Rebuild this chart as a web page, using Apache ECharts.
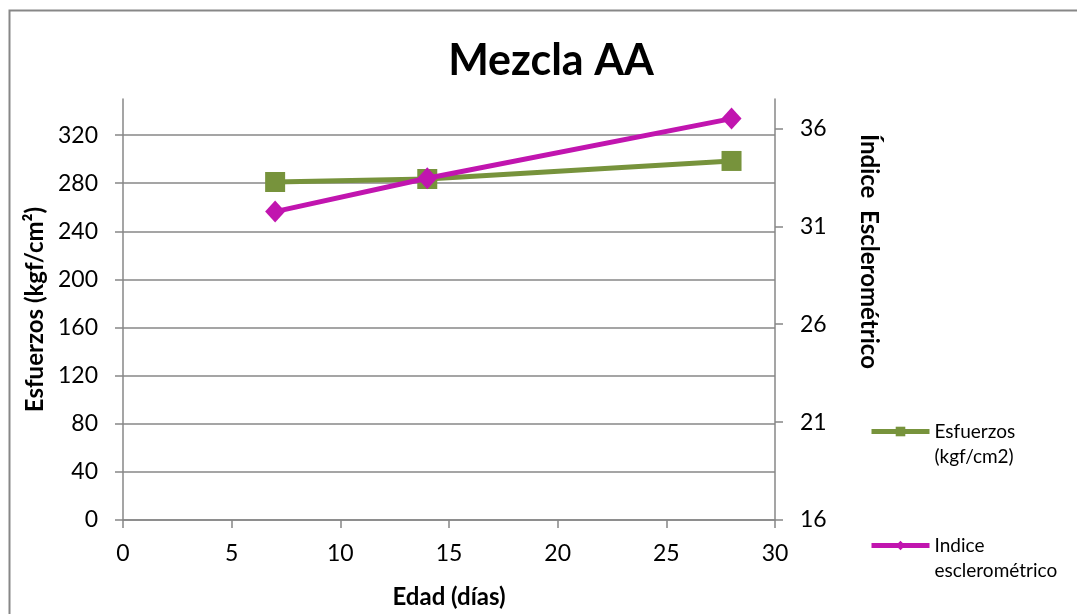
<!DOCTYPE html>
<html>
<head>
<meta charset="utf-8">
<script src="https://cdn.jsdelivr.net/npm/echarts@6/dist/echarts.min.js"></script>
<style>
  html, body { margin: 0; padding: 0; background: #fff; }
  #chart { width: 1077px; height: 614px; }
</style>
</head>
<body>
<div id="chart"></div>
<script>
// Edad (días) for each test
const edadDias = [7, 14, 28];
// Esfuerzos (kgf/cm2)
const esfuerzos = [281, 283.5, 298.5];
// Índice esclerométrico
const indice = [31.75, 33.45, 36.5];

const leftTicks = { min: 0, max: 350, interval: 40 };
const rightTicks = { min: 16, max: 37.5, interval: 5 };
const xTicks = { min: 0, max: 30, interval: 5 };

const FONT = 'Lato, "Open Sans", sans-serif';
const GRID_COLOR = '#878787';
const GREEN = '#77933C';
const MAGENTA = '#C115AF';

const chart = echarts.init(document.getElementById('chart'), null, { renderer: 'canvas' });

chart.setOption({
  animation: false,
  backgroundColor: '#ffffff',
  textStyle: { fontFamily: FONT },
  title: {
    text: 'Mezcla AA',
    left: 546,
    textAlign: 'center',
    top: 35,
    textStyle: { fontFamily: FONT, fontSize: 43, fontWeight: 'bold', color: '#000' }
  },
  graphic: [{
    type: 'rect',
    shape: { x: 9.5, y: 10.5, width: 1200, height: 800 },
    style: { fill: 'none', stroke: GRID_COLOR, lineWidth: 2 },
    silent: true
  }],
  grid: { left: 123, right: 302, top: 99, bottom: 93, containLabel: false },
  legend: {
    orient: 'vertical',
    left: 869,
    top: 394,
    padding: 0,
    itemWidth: 58,
    itemHeight: 12,
    itemGap: 39,
    lineStyle: { width: 5 },
    formatter: name => ' \n' + name,
    textStyle: { fontFamily: FONT, fontSize: 19, color: '#000', lineHeight: 25 },
    data: ['Esfuerzos\n(kgf/cm2)', 'Indice\nesclerométrico']
  },
  xAxis: {
    type: 'value',
    min: xTicks.min, max: xTicks.max, interval: xTicks.interval,
    name: 'Edad (días)',
    nameLocation: 'middle',
    nameGap: 65,
    nameTextStyle: { fontFamily: FONT, fontSize: 24, fontWeight: 'bold', color: '#000' },
    axisLine: { show: true, lineStyle: { color: GRID_COLOR, width: 1.5 } },
    axisTick: { show: true, length: 8, lineStyle: { color: GRID_COLOR, width: 1.5 } },
    axisLabel: { fontFamily: FONT, fontSize: 23, color: '#000', margin: 22 },
    splitLine: { show: false }
  },
  yAxis: [{
    type: 'value',
    position: 'left',
    min: leftTicks.min, max: leftTicks.max, interval: leftTicks.interval,
    name: 'Esfuerzos (kgf/cm²)',
    nameLocation: 'middle',
    nameGap: 76,
    nameRotate: 90,
    nameTextStyle: { fontFamily: FONT, fontSize: 24, fontWeight: 'bold', color: '#000' },
    axisLine: { show: true, lineStyle: { color: GRID_COLOR, width: 1.5 } },
    axisTick: { show: true, length: 8, lineStyle: { color: GRID_COLOR, width: 1.5 } },
    axisLabel: { fontFamily: FONT, fontSize: 23, color: '#000', margin: 25, showMaxLabel: false },
    splitLine: { show: true, showMaxLine: false, lineStyle: { color: GRID_COLOR, width: 1.5 } }
  }, {
    type: 'value',
    position: 'right',
    min: rightTicks.min, max: rightTicks.max, interval: rightTicks.interval,
    name: 'Índice  Esclerométrico',
    nameLocation: 'middle',
    nameGap: 82,
    nameRotate: -90,
    nameTextStyle: { fontFamily: FONT, fontSize: 24, fontWeight: 'bold', color: '#000', padding: [0, 116, 0, 0] },
    axisLine: { show: true, lineStyle: { color: GRID_COLOR, width: 1.5 } },
    axisTick: { show: true, length: 8, lineStyle: { color: GRID_COLOR, width: 1.5 } },
    axisLabel: { fontFamily: FONT, fontSize: 23, color: '#000', margin: 25, showMaxLabel: false },
    splitLine: { show: false }
  }],
  series: [{
    name: 'Esfuerzos\n(kgf/cm2)',
    type: 'line',
    yAxisIndex: 0,
    data: edadDias.map((d, i) => [d, esfuerzos[i]]),
    symbol: 'rect',
    symbolSize: 20,
    lineStyle: { color: GREEN, width: 5 },
    itemStyle: { color: GREEN },
    z: 2
  }, {
    name: 'Indice\nesclerométrico',
    type: 'line',
    yAxisIndex: 1,
    data: edadDias.map((d, i) => [d, indice[i]]),
    symbol: 'diamond',
    symbolSize: [20, 22],
    lineStyle: { color: MAGENTA, width: 5 },
    itemStyle: { color: MAGENTA },
    z: 3
  }]
});
</script>
</body>
</html>
